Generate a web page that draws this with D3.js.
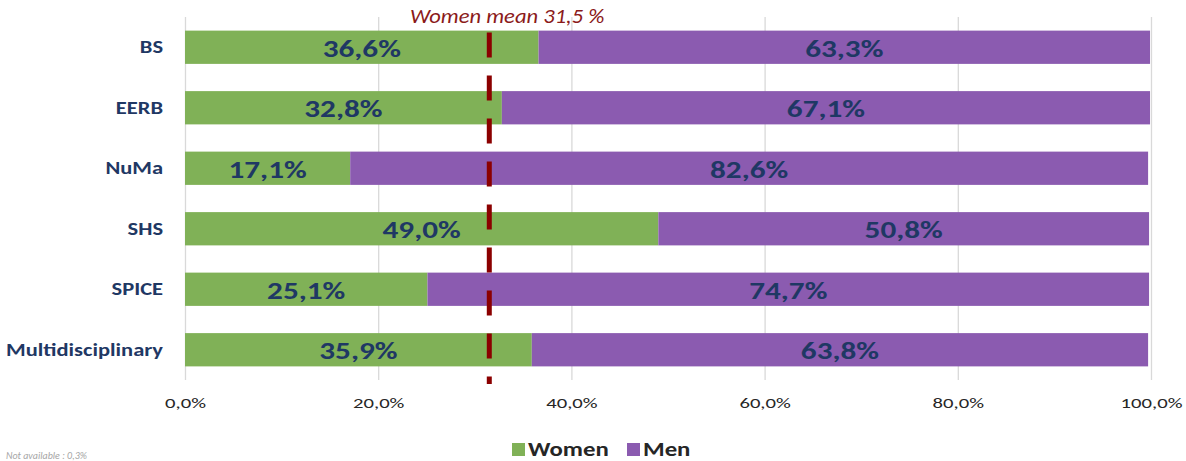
<!DOCTYPE html>
<html>
<head>
<meta charset="utf-8">
<script src="https://cdn.jsdelivr.net/npm/d3@7"></script>
<style>
  body { margin: 0; background: #fff; }
  svg, svg text { font-family: Carlito, Calibri, Lato, "Liberation Sans", sans-serif; }
</style>
</head>
<body>
<div id="svg-area"></div>
<script>
const width = 1186;
const height = 461;
const margin = {top: 17, left: 185, bottom: 81, right: 35};

const categories = ['BS', 'EERB', 'NuMa', 'SHS', 'SPICE', 'Multidisciplinary'];
const women = [36.6, 32.8, 17.1, 49.0, 25.1, 35.9];
const men = [63.3, 67.1, 82.6, 50.8, 74.7, 63.8];
const ticks = [0, 20, 40, 60, 80, 100];
const womenMean = 31.5;

const colors = {Women: '#80b157', Men: '#8b5bb0'};
const fmt = v => d3.format('.1f')(v).replace('.', ',');

// the original was exported a bit wider than tall, so text looks stretched
const stretch = (sel, sx) => sel.attr('transform', function() {
  const t = this.getAttribute('transform') || '';
  return t + ` scale(${sx},1)`;
});

const x = d3.scaleLinear()
  .domain([0, 100])
  .range([margin.left, width - margin.right]);

const y = d3.scaleBand()
  .domain(categories)
  .range([margin.top, height - margin.bottom])
  .paddingInner(0.45)
  .paddingOuter(0.225);

const svg = d3.select('#svg-area').append('svg')
  .attr('width', width).attr('height', height);

// grid + x axis labels
const xAxis = g => g
  .attr('transform', `translate(0, ${height - margin.bottom})`)
  .call(d3.axisBottom(x).tickValues(ticks).tickFormat(d => fmt(d) + '%')
    .tickSize(-(height - margin.bottom - margin.top)).tickPadding(17))
  .call(g => g.attr('font-family', null))
  .call(g => g.select('.domain').remove())
  .call(g => g.selectAll('line').style('stroke', '#d9d9d9').style('stroke-width', 1.3))
  .call(g => g.selectAll('text').style('font-size', '15px').style('fill', '#262626')
    .call(stretch, 1.38));

svg.append('g').call(xAxis);

// category labels
const catSx = 1.25;
const yAxis = g => g
  .attr('transform', `translate(${margin.left}, 0)`)
  .call(d3.axisLeft(y).tickSize(0).tickPadding(22 / catSx))
  .call(g => g.attr('font-family', null))
  .call(g => g.select('.domain').remove())
  .call(g => g.selectAll('text')
    .style('font-size', '18px').style('font-weight', 'bold').style('fill', '#1f3864')
    .call(stretch, catSx));

svg.append('g').call(yAxis);

const rows = categories.map((c, i) => ({name: c, women: women[i], men: men[i]}));

const bars = svg.append('g').selectAll('g').data(rows).join('g');

bars.append('rect')
  .attr('x', x(0))
  .attr('y', d => y(d.name))
  .attr('width', d => x(d.women) - x(0))
  .attr('height', y.bandwidth())
  .attr('fill', colors.Women);

bars.append('rect')
  .attr('x', d => x(d.women))
  .attr('y', d => y(d.name))
  .attr('width', d => x(d.women + d.men) - x(d.women))
  .attr('height', y.bandwidth())
  .attr('fill', colors.Men);

const labelStyle = sel => sel
  .attr('text-anchor', 'middle')
  .attr('dy', '0.36em')
  .style('font-size', '24px')
  .style('font-weight', 'bold')
  .style('fill', '#1f3864');

bars.append('text')
  .attr('transform', d => `translate(${(x(0) + x(d.women)) / 2}, ${y(d.name) + y.bandwidth() / 2 + 1}) scale(1.3,1)`)
  .text(d => fmt(d.women) + '%')
  .call(labelStyle);

bars.append('text')
  .attr('transform', d => `translate(${(x(d.women) + x(d.women + d.men)) / 2}, ${y(d.name) + y.bandwidth() / 2 + 1}) scale(1.3,1)`)
  .text(d => fmt(d.men) + '%')
  .call(labelStyle);

// women mean line
svg.append('line')
  .attr('x1', x(womenMean)).attr('x2', x(womenMean))
  .attr('y1', y(categories[0]) + 2)
  .attr('y2', height - margin.bottom + 4)
  .style('stroke', '#8b0000')
  .style('stroke-width', 5)
  .style('stroke-dasharray', '25 18');

svg.append('text')
  .attr('transform', `translate(${x(womenMean) + 18}, 23) scale(1.13,1)`)
  .attr('text-anchor', 'middle')
  .style('font-size', '20px')
  .style('font-style', 'italic')
  .style('fill', '#8b1a1a')
  .text('Women mean ' + fmt(womenMean) + ' %');

// legend
const legendKeys = ['Women', 'Men'];
const legend = svg.append('g').attr('transform', 'translate(512, 456)');
const lx = [0, 115];
legendKeys.forEach((k, i) => {
  legend.append('rect')
    .attr('x', lx[i]).attr('y', -13)
    .attr('width', 13).attr('height', 13)
    .attr('fill', colors[k]);
  legend.append('text')
    .attr('transform', `translate(${lx[i] + 16}, 0) scale(1.18,1)`)
    .style('font-size', '21px')
    .style('font-weight', 'bold')
    .style('fill', '#262626')
    .text(k);
});

// footnote
svg.append('text')
  .attr('x', 6).attr('y', 459)
  .style('font-size', '10px')
  .style('font-style', 'italic')
  .style('fill', '#a6a6a6')
  .text('Not available : 0,3%');
</script>
</body>
</html>
